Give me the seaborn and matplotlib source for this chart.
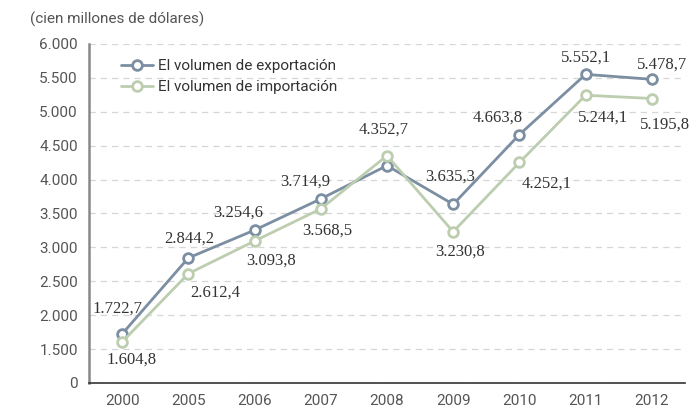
import numpy as np
import pandas as pd
import seaborn as sns
import matplotlib.pyplot as plt

# %%
years = ['2000', '2005', '2006', '2007', '2008', '2009', '2010', '2011', '2012']
exports = [1722.7, 2844.2, 3254.6, 3714.9, 4206.0, 3635.3, 4663.8, 5552.1, 5478.7]
imports = [1604.8, 2612.4, 3093.8, 3568.5, 4352.7, 3230.8, 4252.1, 5244.1, 5195.8]
export_labels = ['1.722,7', '2.844,2', '3.254,6', '3.714,9', None, '3.635,3', '4.663,8', '5.552,1', '5.478,7']
import_labels = ['1.604,8', '2.612,4', '3.093,8', '3.568,5', '4.352,7', '3.230,8', '4.252,1', '5.244,1', '5.195,8']
series_names = ['El volumen de exportación', 'El volumen de importación']
y_ticks = [1000, 1500, 2000, 2500, 3000, 3500, 4000, 4500, 5000, 5500, 6000]
y_tick_labels = ['0', '1.500', '2.000', '2.500', '3.000', '3.500', '4.000', '4.500', '5.000', '5.500', '6.000']

# label offsets in pixels (styling only)
exp_off = [(-5, 25), (1, 19), (-16, 17), (-16, 17), (0, 0), (-3, 28), (-22, 17), (0, 17), (10, 15)]
imp_off = [(9, -18), (27, -19), (17, -20), (6, -22), (-3, 26), (7, -20), (27, -21), (17, -22), (13, -26)]

c_exp = '#7b8ea2'
c_imp = '#bccdb0'
tick_col = '#555555'

# %%
sns.set_style('white')
plt.rcParams['font.family'] = ['Roboto', 'DejaVu Sans']

fig = plt.figure(figsize=(6.93, 4.08), dpi=100)
ax = fig.add_axes([0.1284, 0.0613, 0.86, 0.8309])

df = pd.DataFrame({'year': years * 2,
                   'value': exports + imports,
                   'serie': [series_names[0]] * len(years) + [series_names[1]] * len(years)})

sns.lineplot(data=df, x='year', y='value', hue='serie', palette=[c_exp, c_imp],
             marker='o', markersize=7, markerfacecolor='white', markeredgewidth=2,
             linewidth=2, ax=ax, legend=False)
for ln, c in zip(ax.lines, [c_exp, c_imp]):
    ln.set_markeredgecolor(c)

for i in range(len(years)):
    if export_labels[i]:
        ax.annotate(export_labels[i], (i, exports[i]), xytext=exp_off[i], textcoords='offset pixels',
                    ha='center', va='center', fontsize=12, family='Liberation Serif', color='#333333')
    ax.annotate(import_labels[i], (i, imports[i]), xytext=imp_off[i], textcoords='offset pixels',
                ha='center', va='center', fontsize=12, family='Liberation Serif', color='#333333')

ax.set_xlim(-0.5, 8.5)
ax.set_ylim(1000, 6000)
ax.set_yticks(y_ticks)
ax.set_yticklabels(y_tick_labels)
ax.set_xticks(range(len(years)))
ax.set_xticklabels(years)
ax.set_xticks(np.arange(0.5, 9, 1), minor=True)
ax.tick_params(axis='x', which='major', length=0, pad=8, labelsize=11, labelcolor=tick_col)
ax.tick_params(axis='x', which='minor', direction='in', length=6, width=1, color='#333333')
ax.tick_params(axis='y', length=0, pad=8, labelsize=11, labelcolor=tick_col)
ax.set_xlabel('')
ax.set_ylabel('')

ax.yaxis.grid(True, linestyle=(0, (5, 4)), color='#d6d6d6', linewidth=0.9)
ax.set_axisbelow(True)
for s in ['top', 'right']:
    ax.spines[s].set_visible(False)
ax.spines['left'].set_color('#888888')
ax.spines['left'].set_linewidth(1.8)
ax.spines['bottom'].set_color('#333333')
ax.spines['bottom'].set_linewidth(1.2)

ax.legend(ax.lines[:2], series_names, loc='upper left', bbox_to_anchor=(0.03, 0.995),
          frameon=False, fontsize=11, labelcolor='#333333', handlelength=2.1,
          handletextpad=0.35, labelspacing=0.45)

fig.text(30 / 693, 1 - 19 / 408, '(cien millones de dólares)', fontsize=11, color=tick_col,
         ha='left', va='center')

fig.savefig('out.png', dpi=100)
